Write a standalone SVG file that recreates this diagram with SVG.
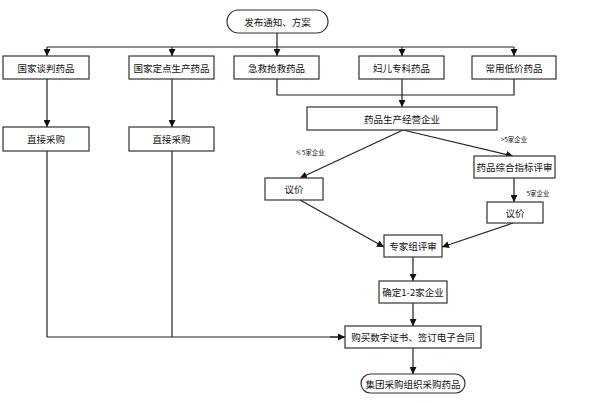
<svg xmlns="http://www.w3.org/2000/svg" width="590" height="403" viewBox="0 0 590 403">
<defs>
<marker id="ah" viewBox="0 0 10 10" refX="10" refY="5" markerWidth="7" markerHeight="7" markerUnits="userSpaceOnUse" orient="auto">
<path d="M0,0 L10,5 L0,10 z" fill="#111"/>
</marker>
<style>
.box{fill:#fff;stroke:#333;stroke-width:1.2}
.t{font-family:"Noto Sans CJK SC","Liberation Sans",sans-serif;font-size:9.5px;fill:#111;text-anchor:middle;dominant-baseline:central}
.s{font-family:"Noto Sans CJK SC","Liberation Sans",sans-serif;font-size:6.5px;fill:#111;text-anchor:middle;dominant-baseline:central}
.c{fill:none;stroke:#222;stroke-width:1.2}
.a{fill:none;stroke:#222;stroke-width:1.2;marker-end:url(#ah)}
</style>
</defs>
<rect width="590" height="403" fill="#fff"/>
<g id="connectors">
<line class="c" x1="277" y1="33" x2="277" y2="47"/>
<line class="c" x1="47" y1="47" x2="514" y2="47"/>
<line class="a" x1="47" y1="47" x2="47" y2="56"/>
<line class="a" x1="172" y1="47" x2="172" y2="56"/>
<line class="a" x1="277" y1="47" x2="277" y2="56"/>
<line class="a" x1="402" y1="47" x2="402" y2="56"/>
<line class="a" x1="514" y1="47" x2="514" y2="56"/>
<polyline class="c" points="277,79 277,95 514,95 514,79"/>
<line class="a" x1="402" y1="79" x2="402" y2="107"/>
<line class="a" x1="47" y1="79" x2="47" y2="127"/>
<line class="a" x1="172" y1="79" x2="172" y2="127"/>
<line class="a" x1="403" y1="130" x2="300" y2="178"/>
<line class="a" x1="403" y1="130" x2="513" y2="156"/>
<line class="a" x1="514" y1="178" x2="514" y2="202"/>
<line class="a" x1="300" y1="200" x2="384" y2="247"/>
<line class="a" x1="513" y1="223" x2="442" y2="247"/>
<line class="a" x1="413" y1="257" x2="413" y2="281"/>
<line class="a" x1="413" y1="303" x2="413" y2="326"/>
<polyline class="c" points="47,151 47,337 345,337"/>
<line class="c" x1="172" y1="151" x2="172" y2="337"/>
<line class="a" x1="330" y1="337" x2="345" y2="337"/>
<line class="a" x1="413" y1="348" x2="413" y2="374"/>
<text class="s" x="310" y="152">≤5家企业</text>
<text class="s" x="514" y="139">&gt;5家企业</text>
<text class="s" x="538" y="193">5家企业</text>
</g>
<g id="n_start"><rect class="box" x="227" y="10" width="101" height="23" rx="11.5"/><text class="t" x="277.5" y="21.5">发布通知、方案</text></g>
<g id="n_gjtp"><rect class="box" x="3" y="56" width="86" height="23"/><text class="t" x="46" y="67.5">国家谈判药品</text></g>
<g id="n_gjdd"><rect class="box" x="129" y="56" width="85" height="23"/><text class="t" x="171.5" y="67.5">国家定点生产药品</text></g>
<g id="n_jjqj"><rect class="box" x="234" y="56" width="85" height="23"/><text class="t" x="276.5" y="67.5">急救抢救药品</text></g>
<g id="n_fezk"><rect class="box" x="359" y="56" width="85" height="23"/><text class="t" x="401.5" y="67.5">妇儿专科药品</text></g>
<g id="n_cydj"><rect class="box" x="472" y="56" width="84" height="23"/><text class="t" x="514" y="67.5">常用低价药品</text></g>
<g id="n_ypsc"><rect class="box" x="307" y="107" width="190" height="23"/><text class="t" x="402" y="118.5">药品生产经营企业</text></g>
<g id="n_zjcg1"><rect class="box" x="3" y="127" width="86" height="24"/><text class="t" x="46" y="139">直接采购</text></g>
<g id="n_zjcg2"><rect class="box" x="129" y="127" width="85" height="24"/><text class="t" x="171.5" y="139">直接采购</text></g>
<g id="n_yj1"><rect class="box" x="265" y="178" width="58" height="22"/><text class="t" x="294" y="189">议价</text></g>
<g id="n_zhpz"><rect class="box" x="474" y="156" width="81" height="22"/><text class="t" x="514.5" y="167">药品综合指标评审</text></g>
<g id="n_yj2"><rect class="box" x="487" y="202" width="56" height="21"/><text class="t" x="515" y="212.5">议价</text></g>
<g id="n_zjz"><rect class="box" x="384" y="235" width="58" height="22"/><text class="t" x="413" y="246">专家组评审</text></g>
<g id="n_qd"><rect class="box" x="379" y="281" width="68" height="22"/><text class="t" x="413" y="292">确定1-2家企业</text></g>
<g id="n_gm"><rect class="box" x="345" y="326" width="136" height="22"/><text class="t" x="413" y="337">购买数字证书、签订电子合同</text></g>
<g id="n_end"><rect class="box" x="361" y="374" width="104" height="19" rx="9.5"/><text class="t" x="413" y="383.5">集团采购组织采购药品</text></g>
</svg>
